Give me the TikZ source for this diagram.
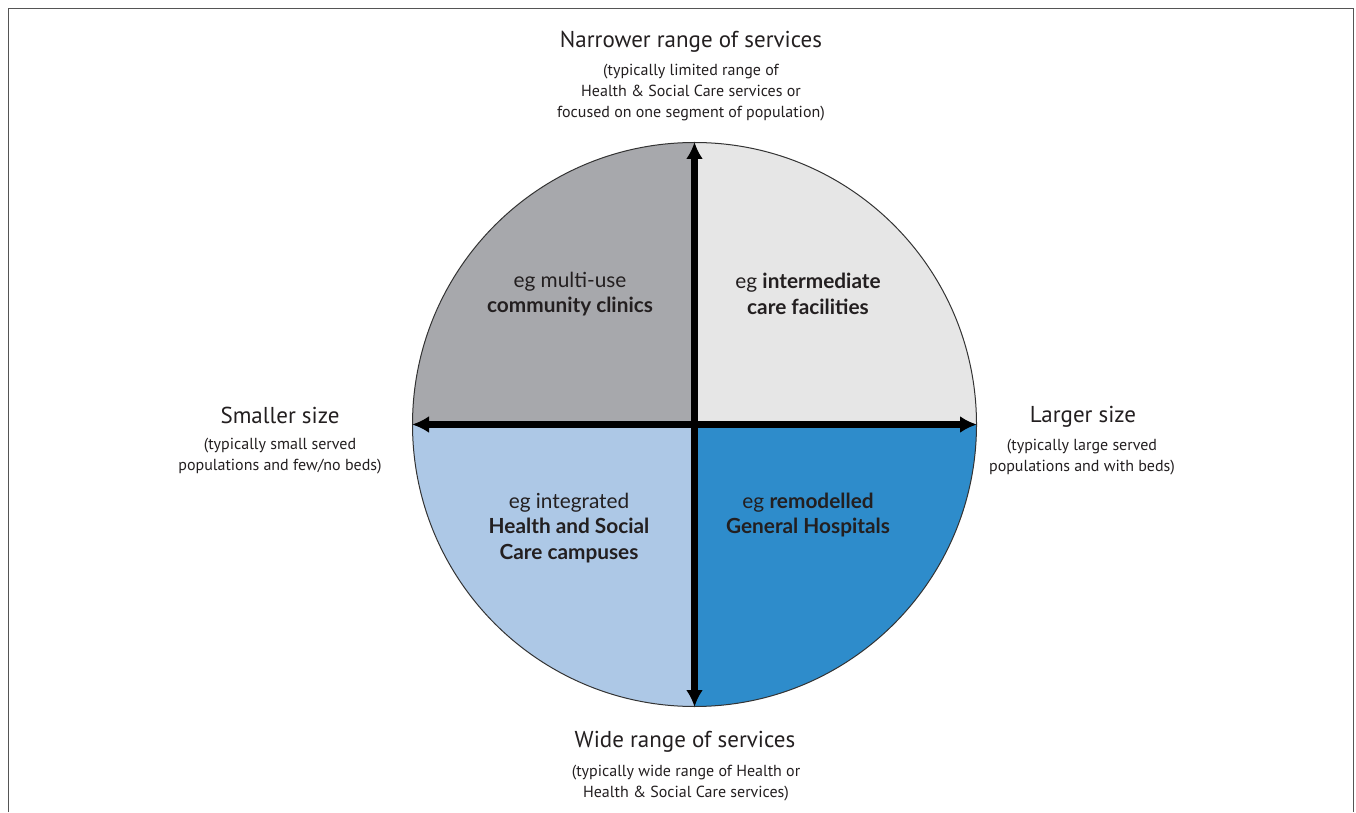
\documentclass[tikz,border=0pt]{standalone}
\usepackage{fontspec}
\setmainfont{PT Sans}
\newfontfamily\quadfont{Lato}
\usetikzlibrary{arrows.meta,backgrounds,positioning}
\definecolor{inktext}{HTML}{231F20}
\definecolor{quadgray}{HTML}{A7A8AC}
\definecolor{quadlight}{HTML}{E6E6E6}
\definecolor{quadpale}{HTML}{ADC8E6}
\definecolor{quadblue}{HTML}{2E8CCB}
\definecolor{framegray}{HTML}{555555}
\tikzset{
  axislabel/.style={text=inktext, inner sep=0pt, font=\fontsize{23}{27}\selectfont},
  axisnote/.style={text=inktext, inner sep=0pt, align=center, font=\fontsize{16}{21}\selectfont},
  quadlabel/.style={text=inktext, inner sep=0pt, align=center, font=\quadfont\fontsize{20.8}{25.5}\selectfont},
  axis/.style={line width=6.5pt, draw=black, {Latex[length=17pt,width=17pt]}-{Latex[length=17pt,width=17pt]}}
}
\begin{document}
\begin{tikzpicture}[x=1pt, y=1pt]
\useasboundingbox (0,0) rectangle (1356,812);

% frame
\draw[framegray, line width=1.5pt] (8.5,0) -- (8.5,803.5) -- (1353.5,803.5) -- (1353.5,0);

% the disc and its quarters
\node (disc) at (694.5,387.5) [circle, draw=black!80, line width=1pt, minimum size=564pt, inner sep=0pt] {};
\begin{scope}[on background layer]
\fill[quadgray] (disc.center) -- +(-282,0) arc[start angle=180, end angle=90, radius=282] -- cycle;
\fill[quadlight] (disc.center) -- +(0,282) arc[start angle=90, end angle=0, radius=282] -- cycle;
\fill[quadpale] (disc.center) -- +(0,-282) arc[start angle=270, end angle=180, radius=282] -- cycle;
\fill[quadblue] (disc.center) -- +(282,0) arc[start angle=0, end angle=-90, radius=282] -- cycle;
\end{scope}

\draw[axis] (disc.west) -- (disc.east);
\draw[axis] (disc.south) -- (disc.north);

% axis labels
\node (narrow) at (691,770) [axislabel] {Narrower range of services};
\node (narrownote) at (691,719) [axisnote] {(typically limited range of\\Health \& Social Care services or\\focused on one segment of population)};

\node (small) at (280,397) [axislabel] {Smaller size};
\node (smallnote) at (280,355.5) [axisnote] {(typically small served\\populations and few/no beds)};

\node (large) at (1083,395) [axislabel] {Larger size};
\node (largenote) at (1082,354.5) [axisnote] {(typically large served\\populations and with beds)};

\node (wide) at (685,70) [axislabel] {Wide range of services};
\node (widenote) at (686,29) [axisnote] {(typically wide range of Health or\\Health \& Social Care services)};

% quarter labels
\node (clinics) at (570,518) [quadlabel] {eg multi-use\\\textbf{community clinics}};
\node (interm) at (808,518) [quadlabel] {eg \textbf{intermediate}\\\textbf{care facilities}};
\node (campus) at (569,284) [quadlabel] {eg integrated\\\textbf{Health and Social}\\\textbf{Care campuses}};
\node (hospitals) at (808,297) [quadlabel] {eg \textbf{remodelled}\\\textbf{General Hospitals}};

\end{tikzpicture}
\end{document}
